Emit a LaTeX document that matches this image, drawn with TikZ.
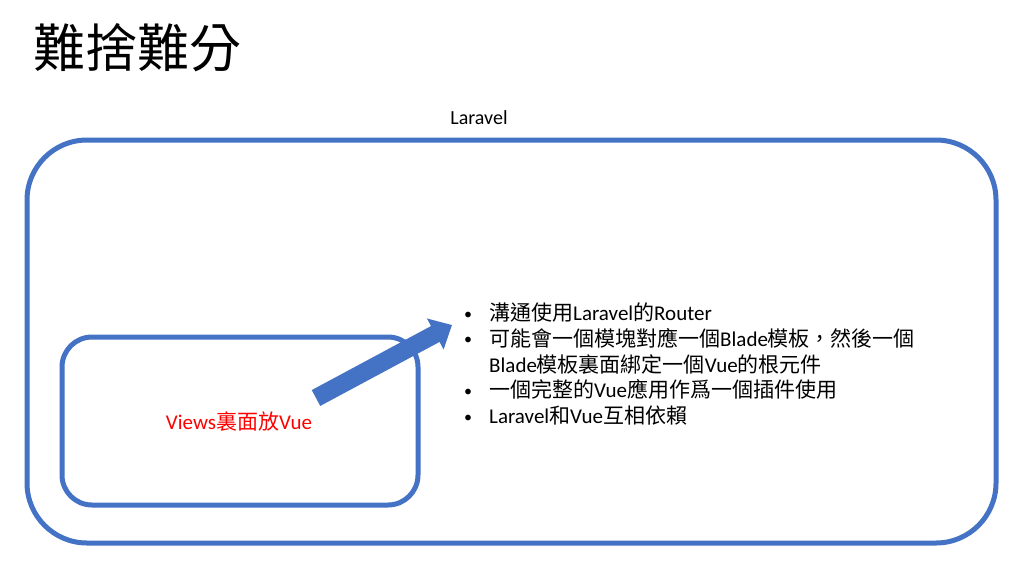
\documentclass[tikz,border=0pt]{standalone}
\usepackage{fontspec}
\setmainfont{Carlito}
\newfontfamily\cjk{Noto Sans CJK TC}
\usetikzlibrary{arrows.meta}
\definecolor{vblue}{HTML}{4472C4}
\definecolor{vred}{HTML}{FF0000}
\newcommand{\dotmark}{\raisebox{1.5pt}{\fontsize{16}{18}\selectfont\textbullet}}

\begin{document}
\begin{tikzpicture}[x=1pt,y=-1pt]
\useasboundingbox (0,0) rectangle (1024,563);

\node[anchor=west,inner sep=0pt] (T1) at (33,48) {\cjk\fontsize{52}{60}\selectfont 難捨難分};

\node[draw=vblue,line width=5pt,rounded corners=60pt,minimum width=969pt,minimum height=403pt] (L1) at (511.5,341.5) {};
\node[font=\fontsize{20}{24}\selectfont] (L2) at (479,118) {Laravel};

\node[draw=vblue,line width=5pt,rounded corners=30pt,minimum width=356pt,minimum height=168pt] (V1) at (240,421) {};
\node[text=vred,font=\fontsize{21}{25}\selectfont] (V2) at (239,422) {Views{\cjk 裏面放}Vue};

\coordinate (A1) at (316,398);
\coordinate (A2) at (452,325);
\draw[vblue,line width=18pt,-{Triangle[length=19pt,width=34pt]}] (A1) -- (A2);

\node[anchor=base west,inner sep=0pt,font=\fontsize{21}{25.8}\selectfont] (B1) at (464,320.5) {%
\begin{tabular}[t]{@{}p{25pt}@{}l@{}}
\dotmark & {\cjk 溝通使用}Laravel{\cjk 的}Router\\
\dotmark & {\cjk 可能會一個模塊對應一個}Blade{\cjk 模板，然後一個}\\
 & Blade{\cjk 模板裏面綁定一個}Vue{\cjk 的根元件}\\
\dotmark & {\cjk 一個完整的}Vue{\cjk 應用作爲一個插件使用}\\
\dotmark & Laravel{\cjk 和}Vue{\cjk 互相依賴}
\end{tabular}};

\end{tikzpicture}
\end{document}
